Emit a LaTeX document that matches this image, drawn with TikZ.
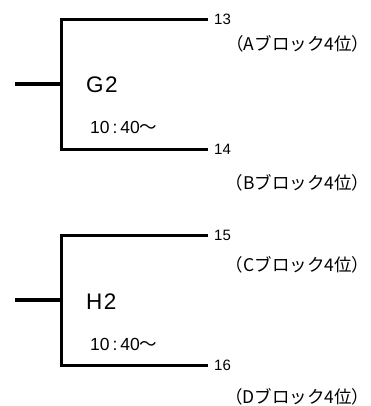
\documentclass[tikz,border=0pt]{standalone}
\usepackage{fontspec}
\setmainfont{Liberation Sans}
\newfontfamily\jp{Noto Sans CJK JP}
\begin{document}
\begin{tikzpicture}[x=1pt,y=-1pt,
  bline/.style={line width=3.3pt},
  num/.style={anchor=west,inner sep=0pt,font=\fontsize{15}{16}\selectfont},
  blk/.style={anchor=east,inner sep=0pt,font=\jp\fontsize{17.5}{18}\selectfont},
  game/.style={anchor=west,inner sep=0pt,font=\fontsize{22.5}{23}\selectfont},
  time/.style={anchor=west,inner sep=0pt,font=\fontsize{17.5}{18}\selectfont}]
\useasboundingbox (0,0) rectangle (370,406);
% bracket G2
\coordinate (g2t) at (61.7,19.5);
\coordinate (g2b) at (61.7,149.3);
\coordinate (g2m) at (61.7,84);
\coordinate (g2s) at (15,84);
\coordinate (g2te) at (208,19.5);
\coordinate (g2be) at (208,149.3);
\draw[bline] (g2te) -- (g2t) -- (g2b) -- (g2be);
\draw[bline] (g2s) -- (g2m);
\node[num] (n13) at (214,19.5) {13};
\node[num] (n14) at (214,149.3) {14};
\node[blk] (la) at (369.5,44) {（Aブロック4位）};
\node[blk] (lb) at (369.5,182.5) {（Bブロック4位）};
\node[game] (g2) at (86,85) {G\kern1.5pt2};
\node[time] (t1) at (90,127) {10{\,}:{\,}40{\jp ～}};
% bracket H2
\coordinate (h2t) at (61.7,235.5);
\coordinate (h2b) at (61.7,365.5);
\coordinate (h2m) at (61.7,300);
\coordinate (h2s) at (15,300);
\coordinate (h2te) at (208,235.5);
\coordinate (h2be) at (208,365.5);
\draw[bline] (h2te) -- (h2t) -- (h2b) -- (h2be);
\draw[bline] (h2s) -- (h2m);
\node[num] (n15) at (214,235.5) {15};
\node[num] (n16) at (214,365.5) {16};
\node[blk] (lc) at (369.5,265) {（Cブロック4位）};
\node[blk] (ld) at (369.5,396.5) {（Dブロック4位）};
\node[game] (h2) at (86,302) {H\kern1.5pt2};
\node[time] (t2) at (90,344) {10{\,}:{\,}40{\jp ～}};
\end{tikzpicture}
\end{document}
